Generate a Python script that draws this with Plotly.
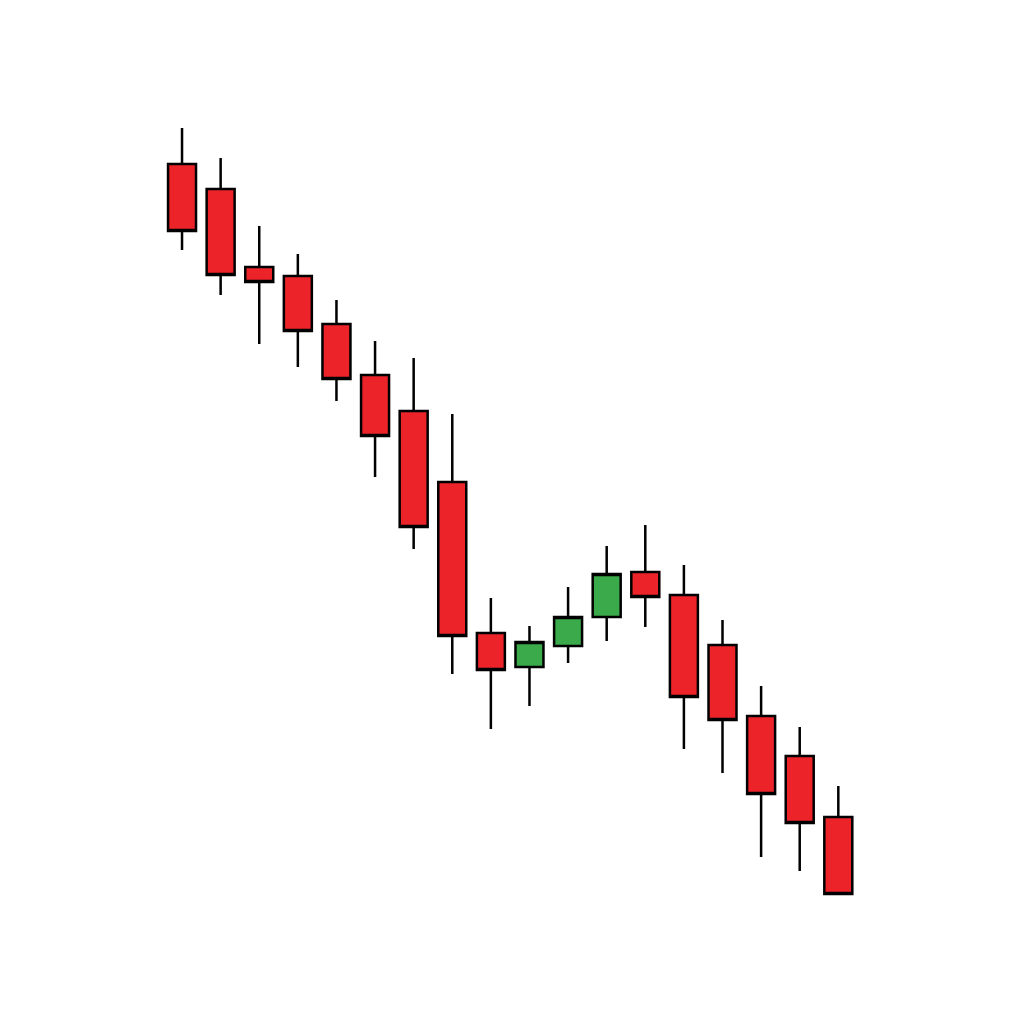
import plotly.graph_objects as go

# candle index and OHLC values (arbitrary price units)
idx = list(range(18))
opens = [860, 835, 757, 748, 700, 649, 613, 542, 391, 357, 378, 407, 452, 429, 379, 308, 268, 207]
highs = [896, 866, 798, 770, 724, 683, 666, 610, 426, 398, 437, 478, 499, 459, 404, 338, 297, 238]
lows = [774, 729, 680, 657, 623, 547, 475, 350, 295, 318, 361, 383, 397, 275, 251, 167, 153, 130]
closes = [793, 749, 742, 693, 645, 588, 497, 388, 354, 382, 407, 450, 427, 327, 304, 230, 201, 130]

fig = go.Figure(go.Candlestick(
    x=idx, open=opens, high=highs, low=lows, close=closes,
    increasing=dict(fillcolor='#3AAA4A', line=dict(color='black', width=2.5)),
    decreasing=dict(fillcolor='#EC2329', line=dict(color='black', width=2.5)),
    whiskerwidth=0,
))

fig.update_layout(
    width=1024, height=1024,
    margin=dict(l=0, r=0, t=0, b=0),
    paper_bgcolor='white', plot_bgcolor='white',
    showlegend=False,
    boxgap=0.275, boxgroupgap=0,
    xaxis=dict(range=[-4.508, 22.017], visible=False, rangeslider=dict(visible=False)),
    yaxis=dict(range=[-8, 1016], visible=False),
)

fig.write_html("out.html")
